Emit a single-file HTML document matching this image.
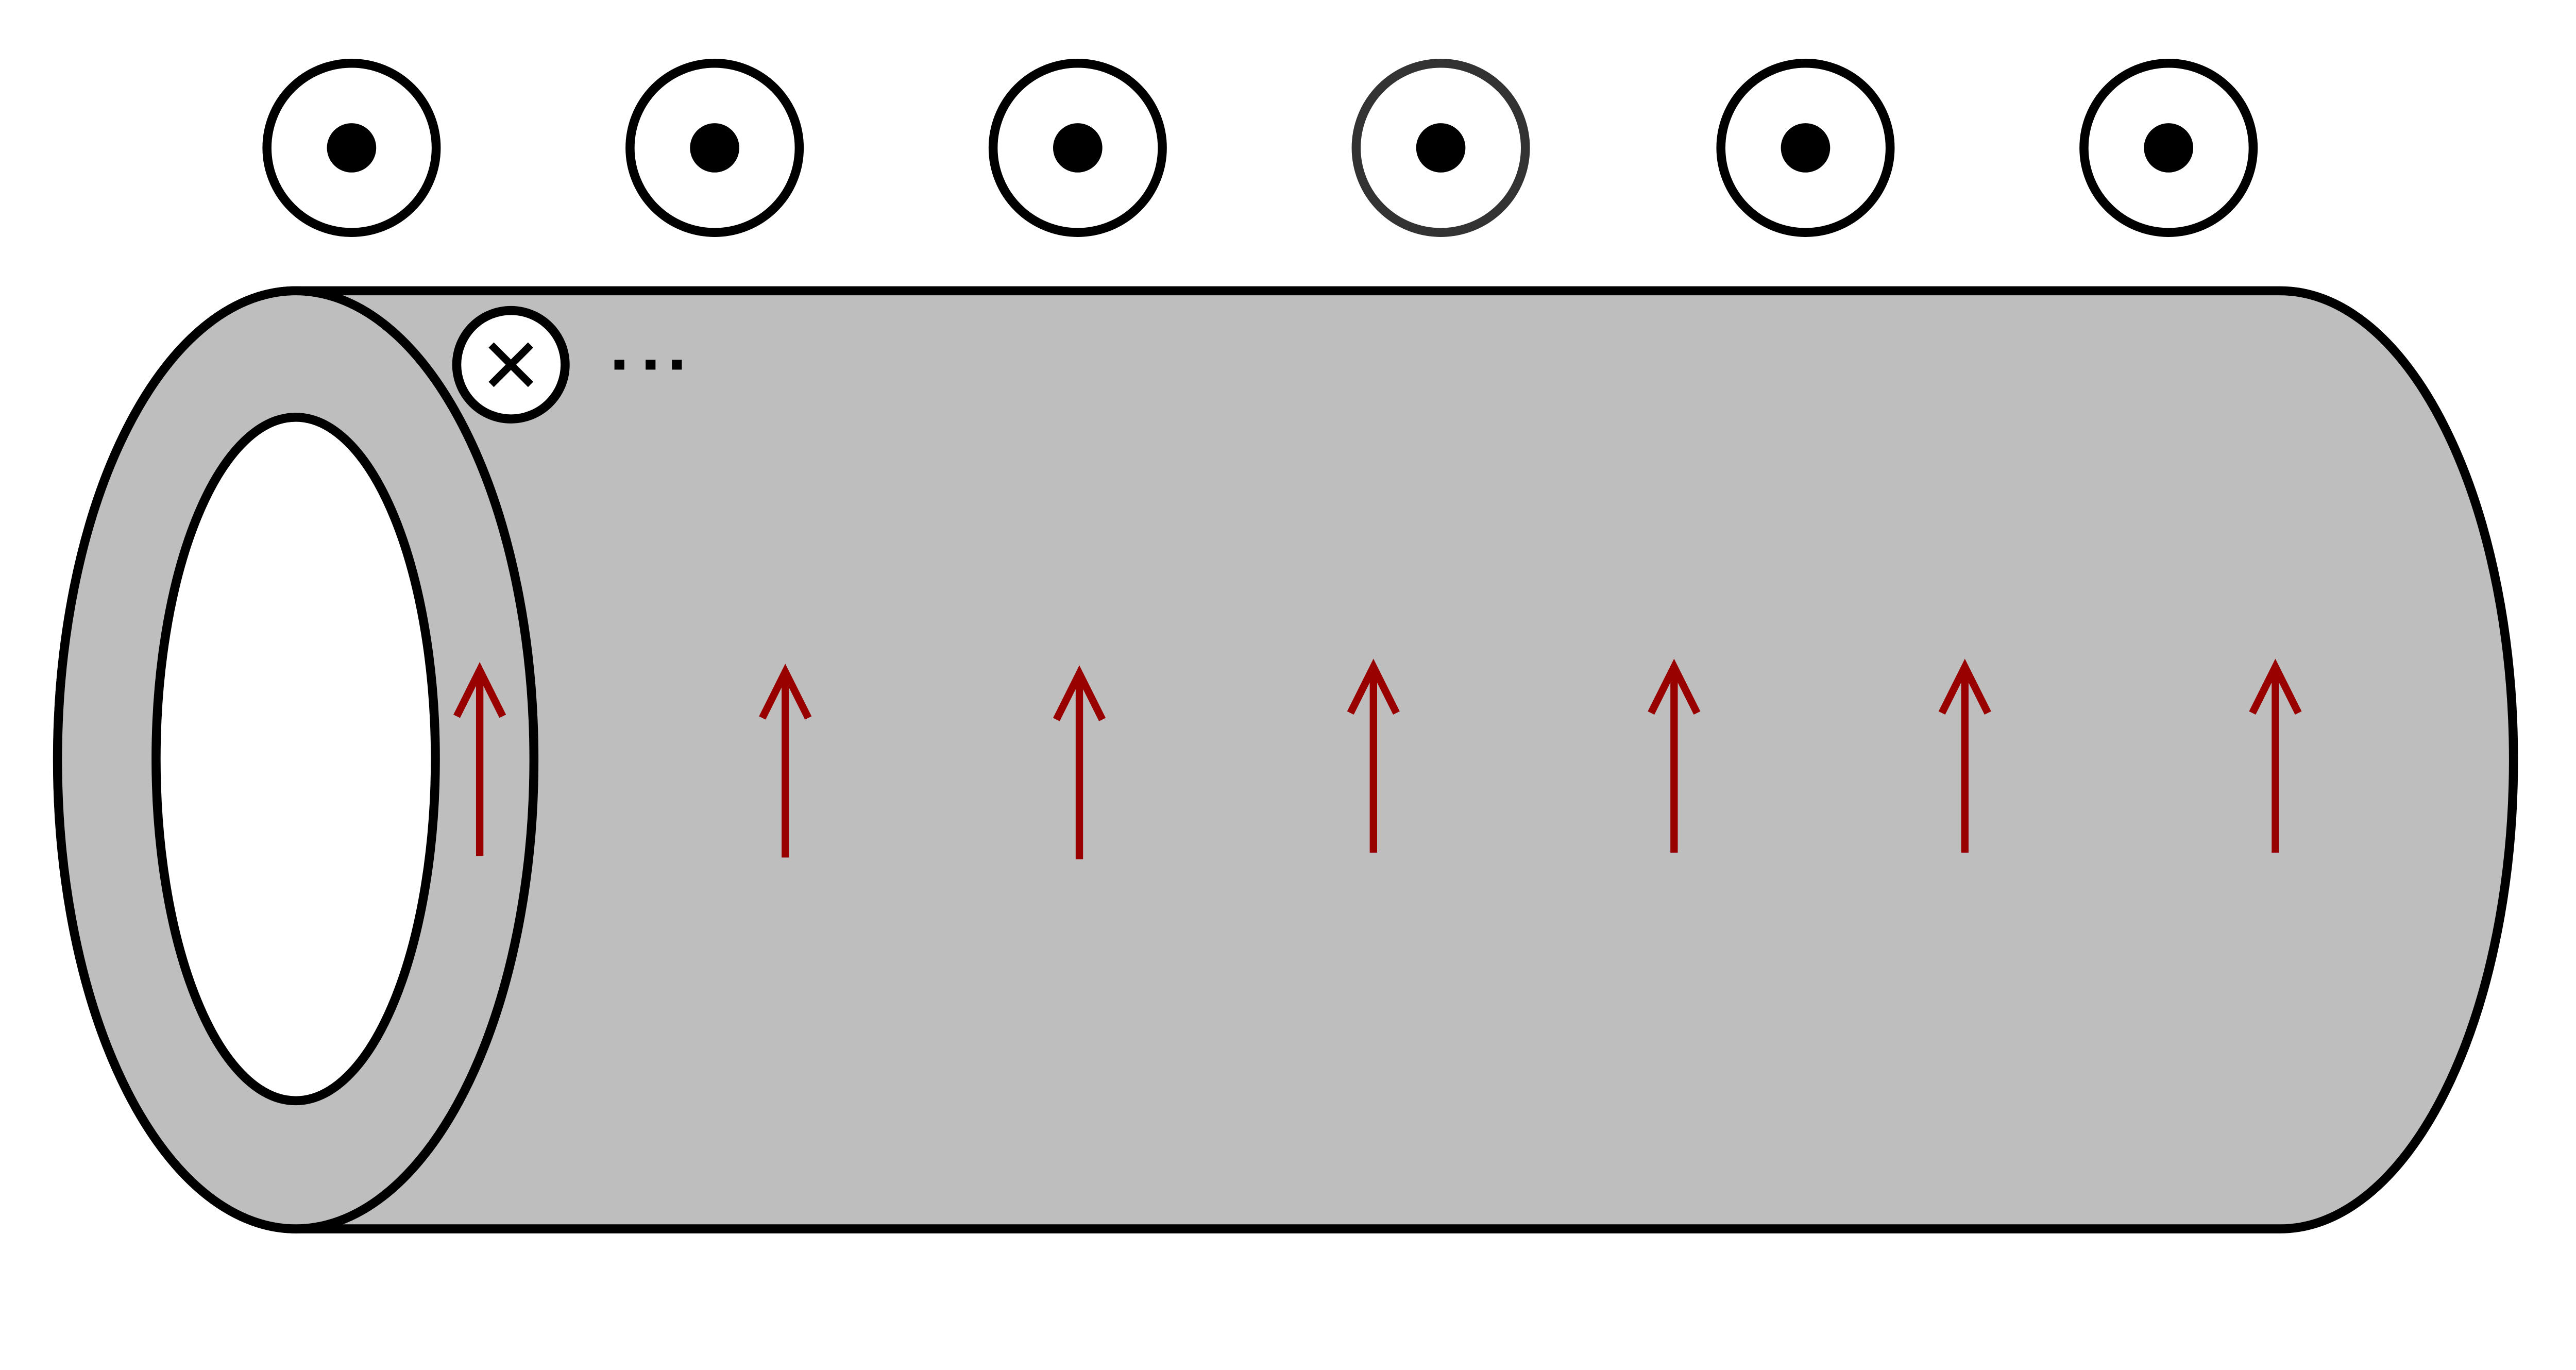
<!DOCTYPE html>
<html><head><meta charset="utf-8"><style>
html,body{margin:0;padding:0;background:#fff;overflow:hidden;}
svg{display:block;width:100vw;height:calc(100vw * 0.508705);}
</style></head><body>
<svg viewBox="0 0 1568 797.7" preserveAspectRatio="none" xmlns="http://www.w3.org/2000/svg">
<g stroke="#000" stroke-width="5.5" fill="#bebebe">
<path d="M180,177 L1388,177 A142,285.5 0 0 1 1388,748 L180,748 A145,285.5 0 0 1 180,177 Z"/>
<ellipse cx="180" cy="462.5" rx="145" ry="285.5"/>
<ellipse cx="180" cy="462" rx="85" ry="208" fill="#fff"/>
</g>
<g id="wires"></g>
<g>
<circle cx="311" cy="222" r="33" fill="#fff" stroke="#000" stroke-width="5.5"/>
<path d="M299,210 L323,234 M323,210 L299,234" stroke="#000" stroke-width="4.5"/>
</g>
<g fill="#000">
<rect x="374" y="219" width="6" height="6"/><rect x="393" y="219" width="6" height="6"/><rect x="409" y="219" width="6" height="6"/>
</g>
<g id="arrows" stroke="#990000" stroke-width="4.5" fill="none"></g>
<script>
const wireX=[214,435,656,877,1099,1320];
const arrowX=[292,478,657,836,1019,1196,1385];
const arrowTop=[408,409,410,406,406,406,406];
const arrowBottom=[521,522,523,519,519,519,519];
const NS="http://www.w3.org/2000/svg";
const wg=document.getElementById('wires');
wireX.forEach((x,i)=>{
 const c=document.createElementNS(NS,'circle');
 
 
 c.setAttribute('cx',x);c.setAttribute('cy',90);c.setAttribute('r',51.5);
 c.setAttribute('fill','#fff');c.setAttribute('stroke',i==3?'#333':'#000');c.setAttribute('stroke-width',5.5);
 wg.appendChild(c);
 const d=document.createElementNS(NS,'circle');
 
 
 d.setAttribute('cx',x);d.setAttribute('cy',90);d.setAttribute('r',15);d.setAttribute('fill','#000');
 wg.appendChild(d);
});
const ag=document.getElementById('arrows');
arrowX.forEach((x,i)=>{
 const p=document.createElementNS(NS,'path');
 
 
 const t=arrowTop[i],b=arrowBottom[i];
 p.setAttribute('d',`M${x},${b} L${x},${t+2} M${x-14},${t+28} L${x},${t} L${x+14},${t+28}`);
 ag.appendChild(p);
});
</script>
</svg>
</body></html>
